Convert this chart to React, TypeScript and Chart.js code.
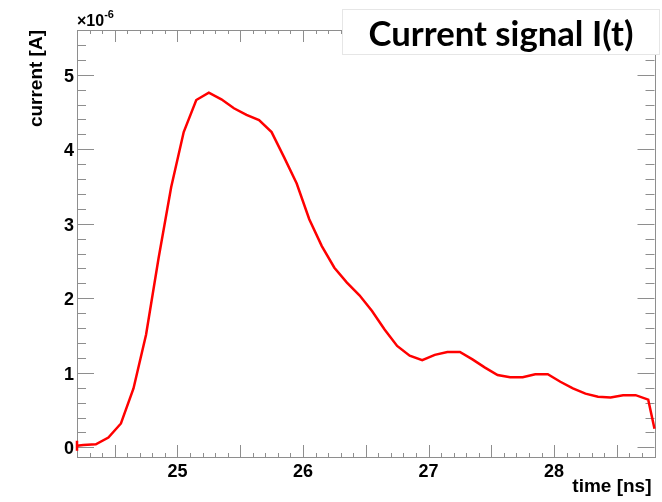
import { useEffect, useRef } from "react";
import { Chart, registerables } from "chart.js";

Chart.register(...registerables);

// Sampled current pulse (units of 1e-6 A) against time in ns
const times = [
  24.2, 24.25, 24.35, 24.45, 24.55, 24.65, 24.75, 24.85, 24.95, 25.05, 25.15, 25.25,
  25.35, 25.45, 25.55, 25.65, 25.75, 25.85, 25.95, 26.05, 26.15, 26.25, 26.35, 26.45,
  26.55, 26.65, 26.75, 26.85, 26.95, 27.05, 27.15, 27.25, 27.35, 27.45, 27.55, 27.65,
  27.75, 27.85, 27.95, 28.05, 28.15, 28.25, 28.35, 28.45, 28.55, 28.65, 28.75, 28.8,
];
const current = [
  0.02, 0.03, 0.04, 0.13, 0.32, 0.79, 1.51, 2.54, 3.49, 4.23, 4.66, 4.76,
  4.67, 4.55, 4.46, 4.39, 4.23, 3.89, 3.54, 3.06, 2.7, 2.41, 2.21, 2.04,
  1.83, 1.58, 1.36, 1.23, 1.17, 1.24, 1.28, 1.28, 1.18, 1.07, 0.97, 0.94,
  0.94, 0.98, 0.98, 0.88, 0.79, 0.72, 0.68, 0.67, 0.7, 0.7, 0.64, 0.25,
];

const xTickLabels = [25, 26, 27, 28];
const yTickLabels = [0, 1, 2, 3, 4, 5];
const xRange = [24.2, 28.8];
const yRange = [-0.13, 5.6];

const xTitle = "time [ns]";
const yTitle = "current [A]";
const yExponent = "-6";
const boxTitle = "Current signal I(t)";

const AXIS_FONT = '"Liberation Sans", Arial, sans-serif';
const FRAME_COLOR = "#8e8e8e";

const frameAndAxes = {
  id: "frameAndAxes",
  beforeDatasetsDraw(chart: any) {
    const { ctx, chartArea } = chart;
    const { left, right, top, bottom } = chartArea;
    const xs = chart.scales.x;
    const ys = chart.scales.y;
    ctx.save();
    ctx.strokeStyle = FRAME_COLOR;
    ctx.lineWidth = 1;
    ctx.strokeRect(Math.round(left) + 0.5, Math.round(top) + 0.5, Math.round(right - left), Math.round(bottom - top));

    // x ticks: long at every 0.5 ns, short at every 0.1 ns (bottom and top)
    ctx.beginPath();
    for (let k = Math.ceil(xRange[0] * 10); k <= Math.floor(xRange[1] * 10); k++) {
      const px = Math.round(xs.getPixelForValue(k / 10)) + 0.5;
      const len = k % 5 === 0 ? 12 : 4;
      ctx.moveTo(px, bottom);
      ctx.lineTo(px, bottom - len);
      ctx.moveTo(px, top);
      ctx.lineTo(px, top + len);
    }
    // y ticks: long at integers, short at every 0.2 (left and right)
    for (let k = Math.ceil(yRange[0] * 5); k <= Math.floor(yRange[1] * 5); k++) {
      const py = Math.round(ys.getPixelForValue(k / 5)) + 0.5;
      const len = k % 5 === 0 ? 17 : 9;
      ctx.moveTo(left, py);
      ctx.lineTo(left + len, py);
      ctx.moveTo(right, py);
      ctx.lineTo(right - len, py);
    }
    ctx.stroke();

    ctx.fillStyle = "#000";
    ctx.font = `bold 18px ${AXIS_FONT}`;
    ctx.textAlign = "center";
    ctx.textBaseline = "alphabetic";
    for (const v of xTickLabels) {
      ctx.fillText(String(v), xs.getPixelForValue(v), bottom + 20);
    }
    ctx.textAlign = "right";
    for (const v of yTickLabels) {
      ctx.fillText(String(v), left - 3, ys.getPixelForValue(v) + 7);
    }

    // axis titles
    ctx.font = `bold 19px ${AXIS_FONT}`;
    ctx.textAlign = "right";
    ctx.fillText(xTitle, right - 3, bottom + 35);
    ctx.save();
    ctx.translate(left - 35, top);
    ctx.rotate(-Math.PI / 2);
    ctx.textAlign = "right";
    ctx.fillText(yTitle, 0, 0);
    ctx.restore();

    // exponent marker above the y axis
    ctx.textAlign = "left";
    ctx.font = `bold 16px ${AXIS_FONT}`;
    ctx.fillText("\u00d710", left, top - 4);
    const w = ctx.measureText("\u00d710").width;
    ctx.font = `bold 11px ${AXIS_FONT}`;
    ctx.fillText(yExponent, left + w, top - 12);
    ctx.restore();
  },
  afterDraw(chart: any) {
    const { ctx } = chart;
    ctx.save();
    const bx = 342, by = 9, bw = 318, bh = 46;
    ctx.fillStyle = "#ffffff";
    ctx.fillRect(bx, by, bw, bh);
    ctx.strokeStyle = "#e6e6e6";
    ctx.lineWidth = 1;
    ctx.strokeRect(bx + 0.5, by + 0.5, bw - 1, bh - 1);
    const family = 'Lato, "Open Sans", sans-serif';
    ctx.font = `bold 30px ${family}`;
    const target = 265;
    const size = (30 * target) / ctx.measureText(boxTitle).width;
    ctx.font = `bold ${size.toFixed(2)}px ${family}`;
    ctx.fillStyle = "#000";
    ctx.textAlign = "center";
    ctx.textBaseline = "alphabetic";
    ctx.fillText(boxTitle, bx + bw / 2, 46);
    ctx.restore();
  },
};

export default function App() {
  const canvasRef = useRef<HTMLCanvasElement | null>(null);

  useEffect(() => {
    const canvas = canvasRef.current;
    if (!canvas) return;
    const chart = new Chart(canvas, {
      type: "scatter",
      data: {
        datasets: [
          {
            data: times.map((t, i) => ({ x: t, y: current[i] })),
            showLine: true,
            borderColor: "#ff0000",
            borderWidth: 2.5,
            tension: 0,
            pointStyle: "line",
            rotation: 90,
            pointRadius: (c: any) => (c.dataIndex === 0 ? 5 : 0),
            pointBorderColor: "#ff0000",
            pointBorderWidth: 2.5,
            pointBackgroundColor: "#ff0000",
            clip: 6,
          } as any,
        ],
      },
      options: {
        responsive: false,
        animation: false,
        events: [],
        layout: { padding: { left: 77, right: 6, top: 30, bottom: 45 } },
        scales: {
          x: { type: "linear", min: xRange[0], max: xRange[1], display: false },
          y: { type: "linear", min: yRange[0], max: yRange[1], display: false },
        },
        plugins: { legend: { display: false }, tooltip: { enabled: false }, title: { display: false } },
      },
      plugins: [frameAndAxes],
    });
    return () => chart.destroy();
  }, []);

  return (
    <div style={{ position: "fixed", left: 0, top: 0, width: 662, height: 502, background: "#fff" }}>
      <canvas ref={canvasRef} width={662} height={502} style={{ display: "block" }} />
    </div>
  );
}
